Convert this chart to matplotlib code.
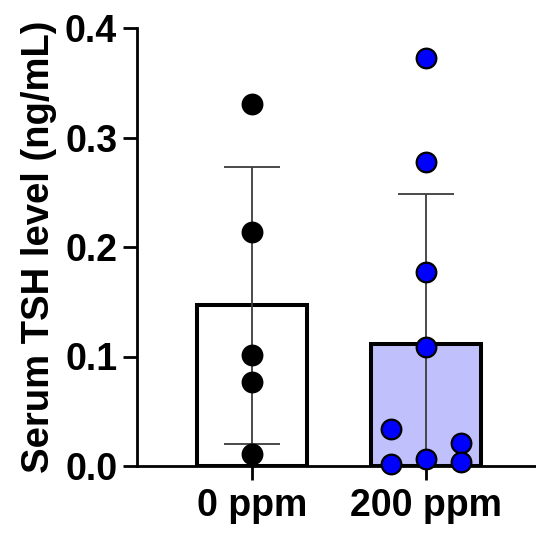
import matplotlib
matplotlib.use("Agg")
import matplotlib.pyplot as plt
import numpy as np

plt.rcParams["font.family"] = ["Liberation Sans", "DejaVu Sans"]
plt.rcParams["font.weight"] = "bold"

groups = ["0 ppm", "200 ppm"]
ctrl_vals = [0.331, 0.214, 0.101, 0.077, 0.011]
ctrl_offsets = [0, 0, 0, 0, 0]
treat_vals = [0.373, 0.278, 0.177, 0.109, 0.034, 0.002, 0.006, 0.021, 0.004]
treat_offsets = [0, 0, 0, 0, -0.2, -0.2, 0, 0.2, 0.2]

bar_fill = ["white", "#c0c0fc"]
dot_fill = ["black", "#0000ff"]

fig = plt.figure(figsize=(5.36, 5.34), dpi=100)
ax = fig.add_axes([137 / 536, 1 - 466 / 534, 1 - 137 / 536, (466 - 28) / 534])

data = [ctrl_vals, treat_vals]
offsets = [ctrl_offsets, treat_offsets]
for i, vals in enumerate(data):
    vals = np.array(vals)
    m = vals.mean()
    sd = vals.std(ddof=1)
    ax.bar(i, m, width=0.632, color=bar_fill[i], edgecolor="black", linewidth=2.9, zorder=2)
    ax.errorbar(i, m, yerr=sd, color="#3c3c3c", elinewidth=1.3, capsize=20.5,
                capthick=1.3, zorder=3)
    ax.scatter(i + np.array(offsets[i]), vals, s=200, color=dot_fill[i],
               edgecolor="black", linewidth=1.6, zorder=4, clip_on=False)

ax.set_xlim(-0.661, 1.632)
ax.set_ylim(0, 0.4)
ax.set_yticks([0.0, 0.1, 0.2, 0.3, 0.4])
ax.set_yticklabels(["0.0", "0.1", "0.2", "0.3", "0.4"])
ax.set_xticks([0, 1])
ax.set_xticklabels(groups)
ax.set_ylabel("Serum TSH level (ng/mL)", fontsize=27.5, fontweight="bold", labelpad=6)

for s in ["top", "right"]:
    ax.spines[s].set_visible(False)
for s in ["left", "bottom"]:
    ax.spines[s].set_linewidth(2)
ax.tick_params(axis="both", length=10, width=2, labelsize=27, pad=4.3)
ax.tick_params(axis="x", pad=6)

fig.savefig("out.png", dpi=100)
